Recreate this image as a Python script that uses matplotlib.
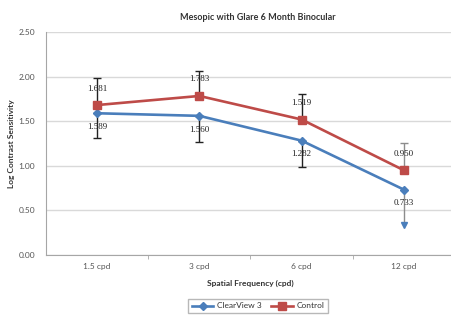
import matplotlib
matplotlib.use("Agg")
import matplotlib.pyplot as plt
import numpy as np

categories = ["1.5 cpd", "3 cpd", "6 cpd", "12 cpd"]
clearview = [1.589, 1.560, 1.282, 0.733]
control = [1.681, 1.783, 1.519, 0.950]
clearview_err_minus = [0.28, 0.29, 0.30, 0.40]
control_err_plus = [0.30, 0.28, 0.29, 0.31]
err_colors = ["#222222", "#222222", "#222222", "#8c8c8c"]
yticks = [0.00, 0.50, 1.00, 1.50, 2.00, 2.50]

BLUE = "#4A7EBB"
RED = "#BE4B48"
FONT = "Lato"

fig = plt.figure(figsize=(4.51, 3.15), dpi=100)
ax = fig.add_axes([46/451, (315-255)/315, (455-46)/451, (255-32)/315])
x = np.arange(len(categories))

ax.set_xlim(-0.5, len(categories) - 0.5)
ax.set_ylim(0, 2.5)
ax.set_yticks(yticks)
ax.set_yticklabels([f"{v:.2f}" for v in yticks], fontsize=6, color="#555555", family=FONT)
ax.yaxis.grid(True, color="#d9d9d9", linewidth=1.0)
ax.set_axisbelow(True)
for s in ["top", "right"]:
    ax.spines[s].set_visible(False)
for s in ["left", "bottom"]:
    ax.spines[s].set_color("#a6a6a6")
    ax.spines[s].set_linewidth(0.8)
ax.tick_params(axis="y", length=0, pad=8)
ax.set_xticks(x)
ax.set_xticklabels(categories, fontsize=6, color="#555555", family=FONT)
ax.tick_params(axis="x", length=0, pad=6)
ax.set_xticks(np.arange(0.5, len(categories) - 0.5, 1), minor=True)
ax.tick_params(axis="x", which="minor", length=3, color="#a6a6a6", direction="out")

# error bars
for i in range(len(categories)):
    ax.errorbar(x[i], control[i], yerr=[[0], [control_err_plus[i]]], fmt="none",
                ecolor=err_colors[i], elinewidth=1.0, capsize=3, capthick=1.0, zorder=3)
    ax.errorbar(x[i], clearview[i], yerr=[[clearview_err_minus[i]], [0]], fmt="none",
                ecolor=err_colors[i], elinewidth=1.0, capsize=3 if i < 3 else 0, capthick=1.0, zorder=3)
ax.plot(x[3], clearview[3] - clearview_err_minus[3], marker="v", color=BLUE, markersize=4, zorder=4)

ax.plot(x, clearview, color=BLUE, linewidth=1.9, marker="D", markersize=4, label="ClearView 3", zorder=5)
ax.plot(x, control, color=RED, linewidth=1.9, marker="s", markersize=6, label="Control", zorder=5)

for i in range(len(categories)):
    ax.annotate(f"{control[i]:.3f}", (x[i], control[i]), xytext=(0, 9), textcoords="offset points",
                ha="center", va="bottom", fontsize=6.5, family="Liberation Serif", color="#222222", zorder=6)
    ax.annotate(f"{clearview[i]:.3f}", (x[i], clearview[i]), xytext=(0, -7), textcoords="offset points",
                ha="center", va="top", fontsize=6.5, family="Liberation Serif", color="#222222", zorder=6)

fig.text(258/451, 1 - 17/315, "Mesopic with Glare 6 Month Binocular", ha="center", va="center",
         fontsize=6.5, fontweight="bold", family=FONT, color="#333333")
ax.set_ylabel("Log Contrast Sensitivity", fontsize=6, fontweight="bold", family=FONT, color="#333333", labelpad=2)
ax.set_xlabel("Spatial Frequency (cpd)", fontsize=6, fontweight="bold", family=FONT, color="#333333", labelpad=7)

leg = fig.legend(loc="upper center", bbox_to_anchor=(258/451, 20/315), ncol=2,
                 frameon=True, fancybox=False, edgecolor="#a6a6a6", handlelength=2.6,
                 handletextpad=0.4, columnspacing=1.2, borderpad=0.4,
                 prop={"family": FONT, "size": 6})
for t in leg.get_texts():
    t.set_color("#333333")

fig.savefig("out.png", dpi=100)
